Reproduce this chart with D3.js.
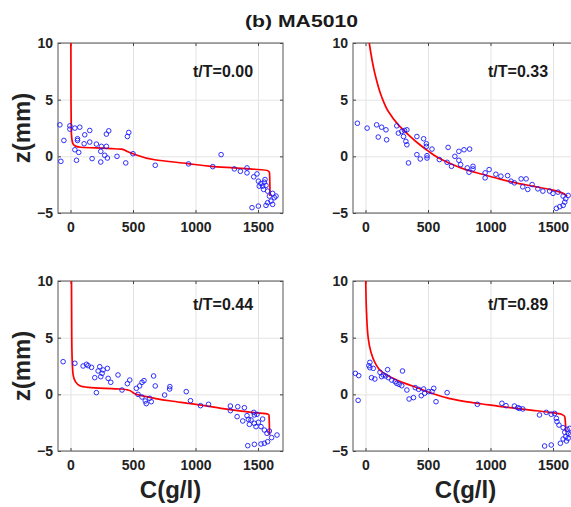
<!DOCTYPE html>
<html lang="en">
<head>
    <meta charset="UTF-8">
    <title>(b) MA5010</title>
    <script src="https://d3js.org/d3.v7.min.js"></script>
    <style>
        body { margin: 0; background: #fff; }
        text { font-family: "Liberation Sans", Arial, sans-serif; }
    </style>
</head>
<body>
    <div id="my_dataviz"></div>

    <script>
        // tick values and labels
        const xTicks = [0, 500, 1000, 1500];
        const yTicks = [-5, 0, 5, 10];
        const panelLabels = ["t/T=0.00", "t/T=0.33", "t/T=0.44", "t/T=0.89"];

        // model profiles (red lines), C in g/l and z in mm
        const lineC_000 = [3, 4, 6, 10, 20, 40, 80, 200, 330, 407, 450, 500, 673, 939, 1125, 1311, 1471, 1577, 1592, 1595, 1596];
        const lineZ_000 = [10, 5, 2.5, 1.6, 1.1, 0.9, 0.8, 0.74, 0.68, 0.63, 0.45, 0.23, -0.3, -0.64, -0.88, -1.02, -1.14, -1.26, -1.45, -2.5, -3.5];
        const lineC_033 = [30, 75, 129, 183, 263, 344, 425, 505, 586, 667, 801, 935, 1070, 1204, 1339, 1473, 1581, 1613];
        const lineZ_033 = [10, 7.3, 5.26, 3.95, 2.78, 1.9, 1.11, 0.44, -0.15, -0.58, -1.17, -1.58, -1.99, -2.34, -2.63, -2.92, -3.27, -3.51];
        const lineC_044 = [8, 10, 14, 21, 40, 74, 141, 274, 407, 460, 527, 673, 806, 939, 1072, 1205, 1338, 1471, 1577, 1588, 1591, 1592];
        const lineZ_044 = [10, 5, 2.9, 1.71, 1.12, 0.76, 0.62, 0.53, 0.47, 0.38, 0, -0.35, -0.59, -0.79, -1.0, -1.24, -1.44, -1.62, -1.74, -1.85, -2.8, -3.6];
        const lineC_089 = [2, 8, 22, 43, 75, 129, 210, 317, 425, 532, 667, 801, 935, 1070, 1204, 1339, 1473, 1567, 1594, 1600, 1602];
        const lineZ_089 = [10, 7.29, 4.94, 3.76, 2.82, 2.0, 1.47, 0.97, 0.53, 0.09, -0.35, -0.65, -0.85, -1.06, -1.24, -1.41, -1.59, -1.76, -1.97, -2.6, -3.29];

        // measured points (blue circles)
        const obsC_000 = [-85, -77, -53, -5, -5, 35, 74, 56, 56, 114, 154, 109, 154, 35, 66, 48, 173, 207, 247, 287, 242, 274, 295, 242, 287, 306, 372, 442, 455, 466, 500, 678, 944, 1138, 1205, 1311, 1359, 1412, 1412, 1466, 1492, 1503, 1524, 1537, 1551, 1564, 1545, 1577, 1591, 1617, 1631, 1644, 1604, 1577, 1617, 1564, 1503, 1452, 1556, 1510];
        const obsZ_000 = [2.78, -0.44, 1.40, 2.69, 2.40, 2.49, 2.57, 1.55, 1.40, 1.90, 2.28, 1.11, 1.26, 0.58, 0.35, -0.35, -0.20, 1.08, 0.88, 0.88, 0.44, 0.09, -0.15, -0.50, 1.96, 2.25, 0, -0.58, 1.75, 2.11, 0.23, -0.79, -0.67, -0.91, 0.15, -1.11, -1.32, -1.02, -1.46, -1.81, -1.55, -2.19, -2.40, -2.63, -2.28, -2.57, -2.92, -3.07, -3.51, -3.27, -3.65, -3.51, -3.95, -4.09, -4.24, -4.33, -4.39, -4.53, -2.05, -2.63];
        const obsC_033 = [-65, 13, 89, 129, 164, 102, 169, 250, 263, 290, 312, 331, 304, 323, 331, 344, 411, 465, 487, 487, 532, 411, 438, 492, 492, 591, 661, 653, 688, 715, 747, 788, 833, 747, 761, 814, 828, 860, 860, 957, 989, 957, 1043, 1083, 1137, 1164, 1191, 1245, 1285, 1258, 1298, 1333, 1379, 1419, 1473, 1500, 1540, 1581, 1602, 1594, 1581, 1554, 1527, 1621];
        const obsZ_033 = [2.92, 2.49, 2.78, 2.57, 2.34, 1.70, 1.46, 2.69, 2.05, 2.19, 2.28, 2.34, 1.75, 1.32, 1.02, -0.58, 1.75, 1.55, 1.11, 0.88, 0.64, 0.15, -0.23, 0.06, -0.15, -0.29, 0.79, -0.53, -0.88, 0, 0.44, 0.58, 0.64, -0.35, -0.73, -1.02, -1.40, -0.88, -1.11, -1.46, -1.17, -1.90, -1.58, -1.75, -1.70, -2.19, -2.34, -1.99, -1.99, -2.69, -2.92, -2.49, -2.87, -3.07, -3.07, -3.27, -3.16, -3.51, -3.74, -4.04, -4.33, -4.44, -4.59, -3.45];
        const obsC_044 = [-59, 35, 101, 128, 141, 168, 234, 221, 261, 295, 194, 242, 253, 301, 322, 380, 207, 412, 455, 474, 527, 553, 572, 588, 665, 678, 540, 572, 598, 606, 633, 646, 753, 793, 795, 926, 960, 1040, 1104, 1279, 1279, 1338, 1391, 1333, 1378, 1412, 1431, 1444, 1466, 1471, 1492, 1471, 1503, 1484, 1524, 1551, 1572, 1591, 1609, 1652, 1577, 1551, 1524, 1471, 1418, 1537, 1423];
        const obsZ_044 = [2.88, 2.74, 2.50, 2.65, 2.53, 2.38, 2.44, 2.06, 2.15, 2.29, 1.47, 1.56, 1.85, 1.41, 1.06, 1.71, 0.15, 0.38, 0.94, 1.26, 0.53, 0.74, 1.06, 1.21, 1.62, 0.74, 0, -0.24, -0.59, -0.82, -0.35, -0.65, -0.06, 0.47, 0.68, 0.24, -0.56, -1.0, -0.88, -1.03, -1.44, -1.09, -1.18, -1.97, -2.35, -1.88, -2.65, -2.26, -1.59, -1.82, -1.76, -2.56, -2.47, -2.85, -2.85, -3.15, -3.44, -3.24, -3.82, -3.59, -4.18, -4.32, -4.38, -4.41, -4.53, -2.18, -2.21];
        const obsC_089 = [-81, -54, -59, 35, 27, 35, 62, 48, 75, 116, 142, 177, 129, 161, 183, 210, 237, 250, 269, 290, 296, 331, 398, 425, 465, 349, 384, 446, 473, 505, 532, 546, 564, 653, 895, 1091, 1124, 1191, 1218, 1231, 1258, 1392, 1446, 1486, 1513, 1527, 1532, 1548, 1581, 1613, 1634, 1594, 1621, 1640, 1602, 1581, 1621, 1559, 1608, 1486, 1433];
        const obsZ_089 = [1.85, 1.65, -0.53, 2.82, 2.53, 2.35, 2.29, 1.47, 1.35, 1.94, 1.71, 2.18, 1.56, 1.62, 1.47, 1.26, 1.12, 0.97, 0.88, 0.76, 2.06, 0.38, 0.59, 0.44, 0.47, -0.41, -0.29, -0.12, 0.09, 0.24, 0.24, 0.53, -0.65, 0.15, -0.88, -0.79, -1.0, -1.03, -1.18, -1.24, -1.29, -1.82, -1.59, -1.76, -1.68, -2.12, -2.41, -2.71, -2.94, -3.09, -3.0, -3.35, -3.44, -3.53, -3.74, -3.94, -3.88, -4.32, -4.12, -4.47, -4.56];

        const panels = [
            { label: panelLabels[0], lc: lineC_000, lz: lineZ_000, oc: obsC_000, oz: obsZ_000, left: 58, top: 43, ylab: true, xlab: false, ty: 34 },
            { label: panelLabels[1], lc: lineC_033, lz: lineZ_033, oc: obsC_033, oz: obsZ_033, left: 353, top: 43, ylab: false, xlab: false, ty: 34 },
            { label: panelLabels[2], lc: lineC_044, lz: lineZ_044, oc: obsC_044, oz: obsZ_044, left: 58, top: 281, ylab: true, xlab: true, ty: 29 },
            { label: panelLabels[3], lc: lineC_089, lz: lineZ_089, oc: obsC_089, oz: obsZ_089, left: 353, top: 281, ylab: false, xlab: true, ty: 29 }
        ];

        const width = 225, height = 170;

        const svg = d3.select("#my_dataviz")
            .append("svg")
            .attr("width", 571)
            .attr("height", 507);

        svg.append("text")
            .attr("x", 245)
            .attr("y", 27)
            .attr("textLength", 113)
            .attr("lengthAdjust", "spacingAndGlyphs")
            .style("font-size", "17px")
            .style("font-weight", "bold")
            .style("fill", "#1a1a1a")
            .text("(b) MA5010");

        const x = d3.scaleLinear().domain([-100, 1700]).range([0, width]);
        const y = d3.scaleLinear().domain([-5, 10]).range([height, 0]);
        const fmt = d3.format("d");

        panels.forEach(function (p) {
            const g = svg.append("g")
                .attr("transform", `translate(${p.left},${p.top})`);

            // grid
            g.append("g")
                .attr("transform", `translate(0,${height})`)
                .call(d3.axisBottom(x).tickValues(xTicks).tickSize(-height).tickFormat(""))
                .call(s => s.select(".domain").remove())
                .selectAll("line").attr("stroke", "#e3e3e3");
            g.append("g")
                .call(d3.axisLeft(y).tickValues(yTicks).tickSize(-width).tickFormat(""))
                .call(s => s.select(".domain").remove())
                .selectAll("line").attr("stroke", "#e3e3e3");

            // axes with inward ticks
            const xb = g.append("g").attr("class", "ax")
                .attr("transform", `translate(0,${height})`)
                .call(d3.axisBottom(x).tickValues(xTicks).tickFormat(fmt).tickSizeInner(-3).tickSizeOuter(0).tickPadding(9));
            g.append("g").attr("class", "ax")
                .call(d3.axisTop(x).tickValues(xTicks).tickSizeInner(-3).tickSizeOuter(0).tickFormat(""));
            const yl = g.append("g").attr("class", "ax")
                .call(d3.axisLeft(y).tickValues(yTicks).tickFormat(fmt).tickSizeInner(-3).tickSizeOuter(0).tickPadding(5));
            g.append("g").attr("class", "ax")
                .attr("transform", `translate(${width},0)`)
                .call(d3.axisRight(y).tickValues(yTicks).tickSizeInner(-3).tickSizeOuter(0).tickFormat(""));

            g.selectAll(".domain").remove();
            g.selectAll(".ax .tick line").attr("stroke", "#444");
            [xb, yl].forEach(a => a.selectAll("text")
                .style("font-size", "14px")
                .style("font-weight", "bold")
                .style("font-family", "'Liberation Sans', Arial, sans-serif")
                .attr("fill", "#222"));

            g.append("rect")
                .attr("width", width)
                .attr("height", height)
                .attr("fill", "none")
                .attr("stroke", "#555")
                .attr("stroke-width", 1);

            // model line
            const pts = p.lc.map((c, i) => [c, p.lz[i]]);
            g.append("path")
                .datum(pts)
                .attr("fill", "none")
                .attr("stroke", "#ff0000")
                .attr("stroke-width", 1.7)
                .attr("d", d3.line()
                    .x(d => x(d[0]))
                    .y(d => y(d[1]))
                    .curve(d3.curveMonotoneY));

            // measured points
            g.append("g")
                .selectAll("circle")
                .data(p.oc.map((c, i) => [c, p.oz[i]]))
                .enter()
                .append("circle")
                    .attr("cx", d => x(d[0]))
                    .attr("cy", d => y(d[1]))
                    .attr("r", 2.3)
                    .attr("fill", "none")
                    .attr("stroke", "#1a1aff")
                    .attr("stroke-width", 0.9);

            g.append("text")
                .attr("x", 135)
                .attr("y", p.ty)
                .style("font-size", "16px")
                .style("font-weight", "bold")
                .style("fill", "#1a1a1a")
                .text(p.label);

            if (p.ylab) {
                g.append("text")
                    .attr("transform", `translate(-28,${height / 2}) rotate(-90)`)
                    .attr("text-anchor", "middle")
                    .style("font-size", "24px")
                    .style("font-weight", "bold")
                    .style("fill", "#222")
                    .text("z(mm)");
            }
            if (p.xlab) {
                g.append("text")
                    .attr("x", width / 2)
                    .attr("y", height + 47)
                    .attr("text-anchor", "middle")
                    .style("font-size", "24px")
                    .style("font-weight", "bold")
                    .style("fill", "#222")
                    .text("C(g/l)");
            }
        });
    </script>
</body>
</html>
